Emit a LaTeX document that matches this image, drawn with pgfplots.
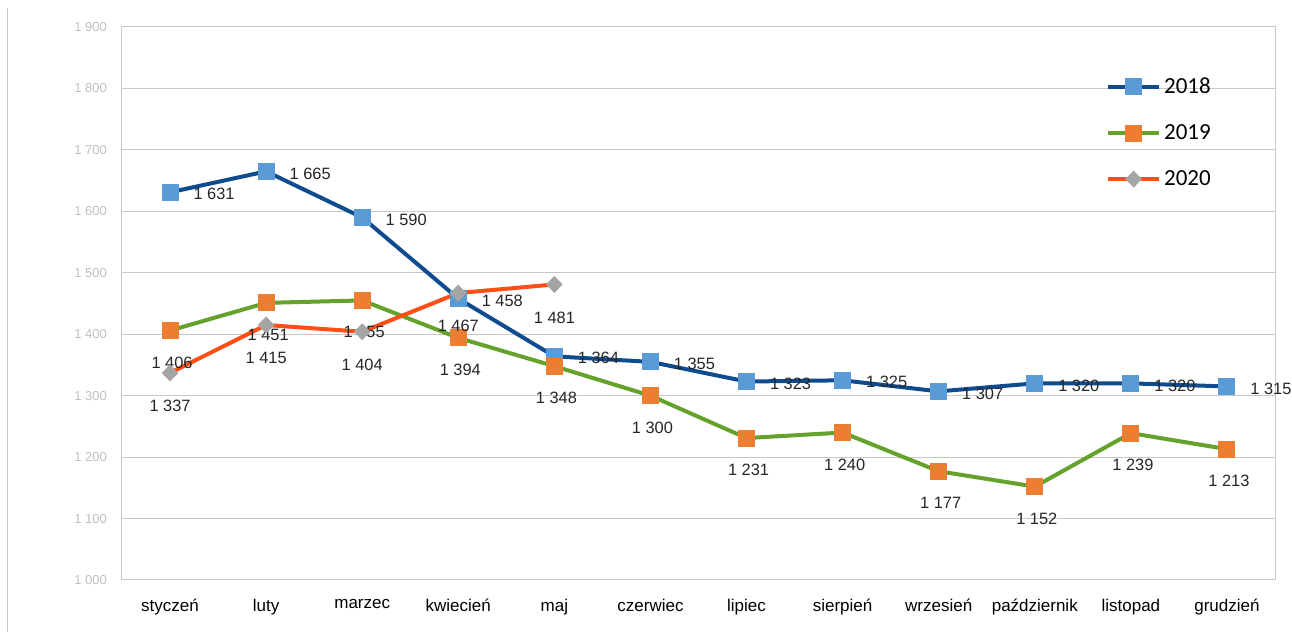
\documentclass[border=0pt]{standalone}
\usepackage{fontspec}
\setmainfont{Liberation Sans}
\newfontfamily\legfont{Carlito}
\usepackage{pgfplots}
\pgfplotsset{compat=1.18}
\definecolor{lineA}{HTML}{0F4C8F}
\definecolor{markA}{HTML}{5B9BD5}
\definecolor{lineB}{HTML}{64A22B}
\definecolor{markB}{HTML}{ED7D31}
\definecolor{lineC}{HTML}{FF4F17}
\definecolor{markC}{HTML}{A5A5A5}
\definecolor{gridgray}{HTML}{C8C8C8}
\definecolor{ticklab}{HTML}{BFBFBF}
\definecolor{labcol}{HTML}{262626}
\begin{document}
\begin{tikzpicture}
\useasboundingbox (-61pt,-26pt) rectangle (585pt,290pt);
\draw[gridgray, line width=0.5pt] (-57pt,-26pt) -- (-57pt,286pt);
\begin{axis}[
  at={(0pt,0pt)}, anchor=south west,
  scale only axis, width=576.5pt, height=276.5pt,
  xmin=-0.5, xmax=11.5, ymin=1000, ymax=1900,
  xtick={0,...,11},
  xticklabels={styczeń,luty,marzec,kwiecień,maj,czerwiec,lipiec,sierpień,wrzesień,październik,listopad,grudzień},
  ytick={1000,1100,...,1900},
  ymajorgrids, grid style={line width=0.5pt, color=gridgray},
  axis line style={gridgray, line width=0.5pt},
  major tick length=0pt,
  xticklabel style={font=\fontsize{8.5}{10}\selectfont, text=black, yshift=-6pt},
  yticklabel style={font=\fontsize{6.5}{7}\selectfont, text=ticklab, xshift=-4pt},
  clip=false,
  legend style={at={(0.848,0.922)}, anchor=north west, draw=none, fill=none,
    font=\legfont\fontsize{11.5}{12}\selectfont, row sep=11pt,
    nodes={inner sep=1.5pt}},
  legend cell align=left,
  legend image code/.code={\draw[mark repeat=2, mark phase=2, #1] plot coordinates {(0pt,0pt) (12.75pt,0pt) (25.5pt,0pt)};},
  /pgf/number format/1000 sep={\ },
  /pgf/number format/assume math mode=true,
]
\addplot[lineA, line width=2pt, mark=square*, mark size=4pt,
  mark options={fill=markA, draw=markA, line width=0.5pt},
  nodes near coords,
  every node near coord/.append style={anchor=west, xshift=11.5pt, yshift=-1pt, inner sep=0pt, font=\fontsize{8.2}{9}\selectfont, text=labcol}]
  coordinates {(0,1631) (1,1665) (2,1590) (3,1458) (4,1364) (5,1355) (6,1323) (7,1325) (8,1307) (9,1320) (10,1320) (11,1315)};
\addlegendentry{2018}
\addplot[lineB, line width=2pt, mark=square*, mark size=4pt,
  mark options={fill=markB, draw=markB, line width=0.5pt},
  nodes near coords,
  every node near coord/.append style={anchor=center, yshift=-16pt, xshift=1pt, inner sep=0pt, font=\fontsize{8.2}{9}\selectfont, text=labcol}]
  coordinates {(0,1406) (1,1451) (2,1455) (3,1394) (4,1348) (5,1300) (6,1231) (7,1240) (8,1177) (9,1152) (10,1239) (11,1213)};
\addlegendentry{2019}
\addplot[lineC, line width=2pt, mark=diamond*, mark size=3.9pt,
  mark options={fill=markC, draw=markC, line width=0.5pt, xscale=1.3},
  nodes near coords,
  every node near coord/.append style={anchor=center, yshift=-16.5pt, inner sep=0pt, font=\fontsize{8.2}{9}\selectfont, text=labcol}]
  coordinates {(0,1337) (1,1415) (2,1404) (3,1467) (4,1481)};
\addlegendentry{2020}
\end{axis}
\end{tikzpicture}
\end{document}
